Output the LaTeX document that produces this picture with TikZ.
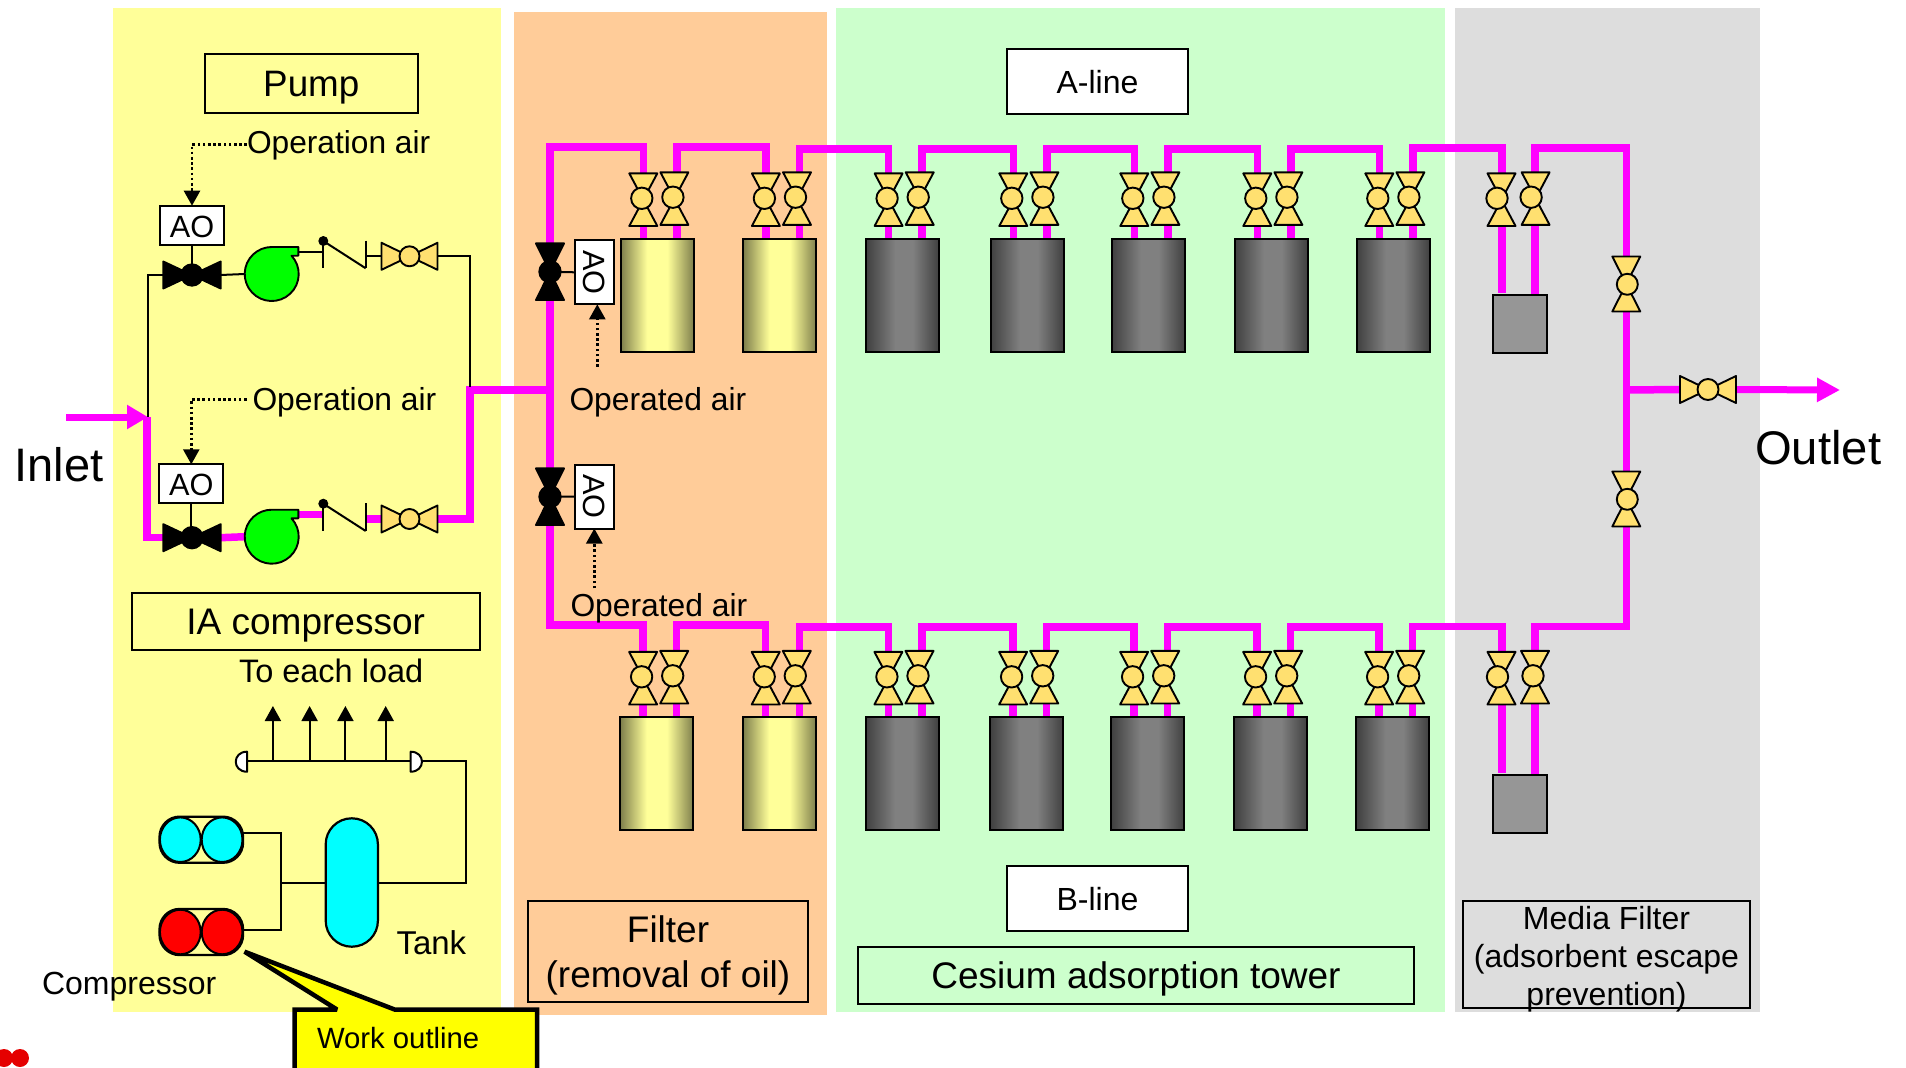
\documentclass[tikz,border=0pt]{standalone}
\usepackage{fontspec}
\setmainfont{Liberation Sans}
\usetikzlibrary{arrows.meta,calc}
\pgfdeclarelayer{pipes}
\pgfsetlayers{pipes,main}
\definecolor{panY}{HTML}{FFFF99}
\definecolor{panO}{HTML}{FFCC99}
\definecolor{panG}{HTML}{CCFFCC}
\definecolor{panK}{HTML}{DDDDDD}
\definecolor{pipeM}{HTML}{FF00FF}
\definecolor{valveY}{HTML}{FFE070}
\definecolor{oe}{HTML}{7F7F4C}
\definecolor{oc}{HTML}{FFFF99}
\definecolor{ke}{HTML}{404040}
\definecolor{kc}{HTML}{808080}
\definecolor{cyanfill}{HTML}{00FFFF}
\definecolor{redfill}{HTML}{FF0000}
\definecolor{greenfill}{HTML}{00FF00}
\definecolor{callfill}{HTML}{FFFF00}
\definecolor{greyfill}{HTML}{969696}
\pgfdeclarehorizontalshading{oliveshade}{100bp}{color(0bp)=(oe); color(25bp)=(oe); color(43bp)=(oc); color(57bp)=(oc); color(75bp)=(oe); color(100bp)=(oe)}
\pgfdeclarehorizontalshading{darkshade}{100bp}{color(0bp)=(ke); color(25bp)=(ke); color(45bp)=(kc); color(57bp)=(kc); color(75bp)=(ke); color(100bp)=(ke)}
\newcommand\fsz[1]{\fontsize{#1}{#1}\selectfont}
% text whose baseline lies #1 below the centre of its node
\newcommand\bl[2]{\raisebox{-#1pt}[0pt][0pt]{#2}}
\tikzset{
  x=1pt,y=-1pt,
  glyphline/.style={draw=black,line width=1.9pt,line join=round},
  thinline/.style={draw=black,line width=2pt},
  pipe/.style={draw=pipeM,line width=7.5pt},
  airline/.style={draw=black,line width=2.6pt,dash pattern=on 2.6pt off 2.6pt,-{Triangle[length=15pt,width=16pt]}},
  txt/.style={inner sep=0pt,outer sep=0pt,text=black},
  lblbox/.style={draw=black,line width=2pt,inner sep=0pt,outer sep=0pt,align=center,text=black},
  aobox/.style={draw=black,fill=white,line width=2pt,inner sep=0pt,outer sep=0pt,font=\fsz{30.7},minimum width=64pt,minimum height=39pt},
  vport/.style={inner sep=0pt,outer sep=0pt,minimum width=28pt,minimum height=53pt},
  hport/.style={inner sep=0pt,outer sep=0pt,minimum width=56pt,minimum height=27pt},
  bvport/.style={inner sep=0pt,outer sep=0pt,minimum width=28pt,minimum height=56pt},
  bhport/.style={inner sep=0pt,outer sep=0pt,minimum width=57pt,minimum height=27pt},
  tankO/.style={draw=black,line width=2pt,shade,shading=oliveshade,inner sep=0pt,outer sep=0pt,minimum width=73pt,minimum height=113.5pt},
  tankK/.style={draw=black,line width=2pt,shade,shading=darkshade,inner sep=0pt,outer sep=0pt,minimum width=73pt,minimum height=113.5pt},
  medium/.style={draw=black,line width=2pt,fill=greyfill,inner sep=0pt,outer sep=0pt,minimum width=54pt,minimum height=58pt},
  pics/vvalve/.style n args={5}{code={
    \path[glyphline,fill=#1] (-14,-#2)--(14,-#2)--(0,0)--cycle;
    \path[glyphline,fill=#1] (-14,#2)--(14,#2)--(0,0)--cycle;
    \path[glyphline,fill=#1] (#4,#5) circle[radius=#3];
  }},
  pics/hvalve/.style n args={3}{code={
    \path[glyphline,fill=#1] (-#2,-13.5)--(-#2,13.5)--(0,0)--cycle;
    \path[glyphline,fill=#1] (#2,-13.5)--(#2,13.5)--(0,0)--cycle;
    \path[glyphline,fill=#1] (0,0) circle[radius=#3];
  }},
  pics/pumpglyph/.style={code={
    \path[glyphline,fill=greenfill] (0,-27)--(26.6,-27)--(26.6,-18.3)--(19.85,-18.3)
      arc[start angle=42.7,end angle=-270,radius=27pt]--cycle;
  }},
  pics/checkglyph/.style={code={
    \draw[line width=2pt] (-21.2,-13.5)--(-21.2,13.8);
    \draw[line width=2pt] (21.2,-14)--(21.2,13.8);
    \draw[line width=2pt] (-21.2,-13.5)--(21.2,13.8);
    \fill (-21.2,-13.5) circle[radius=5pt];
  }},
  pics/compglyph/.style={code={
    \draw[line width=2.4pt,rounded corners=20pt] (-41.7,-23)rectangle(41.7,23);
    \path[glyphline,line width=2pt,fill=#1] (-21,0) ellipse[x radius=20.4pt,y radius=22.3pt];
    \path[glyphline,line width=2pt,fill=#1] (20.8,0) ellipse[x radius=20.4pt,y radius=22.3pt];
  }},
}
% name, pipe x, centre y, glyph x offset, ball x offset
\newcommand\VV[5]{\node[vport] (#1) at (#2,#3) {};\pic at (#2+#4,#3) {vvalve={valveY}{26.3}{10.7}{#5}{-1.4}};}
\begin{document}
\begin{tikzpicture}
\useasboundingbox (0,0) rectangle (1906,1068);
\begin{pgfonlayer}{pipes}
  \fill[white] (0,0) rectangle (1906,1068);
  \fill[panY] (113,8) rectangle (501,1012);
  \fill[panO] (514,11.5) rectangle (827,1015);
  \fill[panG] (836,8) rectangle (1445,1012);
  \fill[panK] (1455,8) rectangle (1760,1012);
\end{pgfonlayer}

% ---------- labels ----------
\node[lblbox,minimum width=213pt,minimum height=59pt,font=\fsz{36.8}] (pumpbox) at (311.3,83) {\bl{13.3}{Pump}};
\node[lblbox,minimum width=348pt,minimum height=57pt,font=\fsz{37}] (iabox) at (305.7,621) {\bl{13}{IA compressor}};
\node[lblbox,fill=white,minimum width=181pt,minimum height=65pt,font=\fsz{32}] (aline) at (1097.5,81.5) {\bl{12}{A-line}};
\node[lblbox,fill=white,minimum width=181pt,minimum height=65pt,font=\fsz{32}] (bline) at (1097.5,898.5) {\bl{12}{B-line}};
\node[lblbox,minimum width=556pt,minimum height=57pt,font=\fsz{37}] (cesium) at (1136,975.5) {\bl{13}{Cesium adsorption tower}};
\node[lblbox,minimum width=280pt,minimum height=101pt] (filterbox) at (668,951.5) {};
\node[txt,font=\fsz{37},align=center,anchor=base] (filtert) at (668,987) {Filter\\[7.5pt](removal of oil)};
\node[lblbox,minimum width=287pt,minimum height=107pt] (mediabox) at (1606.5,954.5) {};
\node[txt,font=\fsz{32},align=center,anchor=base] (medt) at (1606.5,1005) {Media Filter\\[6pt](adsorbent escape\hspace*{7pt}\\[6pt]prevention)};

\node[txt,anchor=base west,font=\fsz{47}] (inlet) at (14.5,481.5) {Inlet};
\node[txt,anchor=base west,font=\fsz{47.2}] (outlet) at (1755.2,464.8) {Outlet};
\node[txt,anchor=base west,font=\fsz{31.7}] (opair1) at (247,153.5) {Operation air};
\node[txt,anchor=base west,font=\fsz{31.8}] (opair2) at (252.5,410.5) {Operation air};
\node[txt,anchor=base west,font=\fsz{31.8}] (opd1) at (569.5,410.5) {Operated air};
\node[txt,anchor=base west,font=\fsz{31.8}] (opd2) at (570.5,616.7) {Operated air};
\node[txt,anchor=base west,font=\fsz{32.5}] (toeach) at (239,682) {To each load};
\node[txt,anchor=base west,font=\fsz{33}] (tanklbl) at (396.5,954) {Tank};
\node[txt,anchor=base west,font=\fsz{32}] (complbl) at (42,994.5) {Compressor};

% ---------- AO boxes ----------
\node[aobox] (AOp1) at (192,225.2) {\bl{12}{AO}};
\node[aobox] (AOp2) at (191.3,483.8) {\bl{12}{AO}};
\node[aobox,rotate=-90] (AOf1) at (594.2,272.3) {\bl{11}{AO}};
\node[aobox,rotate=-90] (AOf2) at (594.2,496.5) {\bl{11}{AO}};

% ---------- pump trains ----------
\foreach \n/\dy in {1/0,2/262.7}{
  \node[bhport] (LV\n) at (192,275+\dy) {};
  \pic at (192,275+\dy) {hvalve={black}{28.7}{10.7}};
  \node[inner sep=0pt,outer sep=0pt,minimum size=54pt,circle] (PU\n) at (271.7,274+\dy) {};
  \pic at (271.7,274+\dy) {pumpglyph};
  \coordinate (PO\n) at (298.3,252+\dy);
  \node[inner sep=0pt,outer sep=0pt,minimum width=42.4pt,minimum height=27.5pt] (CV\n) at (344.5,254.5+\dy) {};
  \pic at (344.5,254.5+\dy) {checkglyph};
  \node[hport] (HV\n) at (409.5,256.3+\dy) {};
  \pic at (409.5,256.3+\dy) {hvalve={valveY}{28}{10}};
}
\coordinate (JR) at (470,390);
\coordinate (JL) at (148,417);
\coordinate (JM) at (550,390);

% ---------- filter isolation valves ----------
\node[bvport] (FT) at (550,271.7) {};
\pic at (550,271.7) {vvalve={black}{28.3}{10.7}{0}{0}};
\node[bvport] (FB) at (550,496.7) {};
\pic at (550,496.7) {vvalve={black}{28.3}{10.7}{0}{0}};

% ---------- tanks and valves ----------
\foreach \i/\tx/\st in {1/620.7/tankO,2/743.3/tankO,3/866/tankK,4/990.7/tankK,5/1111.7/tankK,6/1234.7/tankK,7/1356.7/tankK}{
  \node[\st] (TA\i) at (\tx+36.5,295.3) {};
  \node[\st] (TB\i) at (\tx+36.1,773.3) {};
  \VV{Aa\i}{\tx+22.6}{199.7}{0}{-1.5}
  \VV{Ab\i}{\tx+56.2}{198.6}{-2.5}{-1.5}
  \VV{Ba\i}{\tx+22.4}{678.2}{0}{-1.5}
  \VV{Bb\i}{\tx+56}{677.2}{-2.5}{-1.5}
}
% ---------- media filters ----------
\VV{Ama}{1502}{199.7}{-0.5}{-4.5}
\VV{Amb}{1535}{198.6}{0.6}{-4.5}
\VV{Bma}{1502}{678.2}{-0.5}{-4}
\VV{Bmb}{1535}{677.2}{0}{-2}
\node[medium] (MA) at (1520.3,323.8) {};
\node[medium] (MB) at (1520.3,804) {};
\node[inner sep=0pt,outer sep=0pt,vport] (V1) at (1626.5,284) {};
\pic at (1626.3,284) {vvalve={valveY}{27.5}{10.5}{1}{0.3}};
\node[inner sep=0pt,outer sep=0pt,vport] (V2) at (1626.5,499) {};
\pic at (1626.3,499) {vvalve={valveY}{27.5}{10.5}{1}{0.3}};
\node[hport] (VO) at (1708,389.5) {};
\pic at (1708,389.5) {hvalve={valveY}{28}{10.5}};
\coordinate (JO) at (1626.5,390);
\coordinate (OUT) at (1840,390);
\coordinate (IN) at (66,417);

% ---------- pipework ----------
\begin{pgfonlayer}{pipes}
  \draw[pipe,line width=7pt,-{Triangle[length=21pt,width=23pt]}] (IN) -- (JL);
  \draw[pipe] (147,417) |- (LV2.west);
  \draw[pipe] (LV2.east) -- (PU2.west);
  \draw[pipe] (PO2) -- (PO2-|CV2.west);
  \draw[pipe] (CV2.east|-HV2) -- (HV2.west);
  \draw[pipe] (HV2.east) -| (JR) -- (JM);
  \draw[pipe] (FT.south) -- (FB.north);
  \draw[pipe] (FT.north) |- (Aa1|-0,147) -- (Aa1.north);
  \draw[pipe] (FB.south) |- (Ba1|-0,625) -- (Ba1.north);
  \foreach \i/\j/\ya/\yb in {1/2/147/625,2/3/149/627,3/4/149/627,4/5/149/627,5/6/149/627,6/7/149/627}{
    \draw[pipe] (Ab\i.north) |- (Aa\j|-0,\ya) -- (Aa\j.north);
    \draw[pipe] (Bb\i.north) |- (Ba\j|-0,\yb) -- (Ba\j.north);
  }
  \draw[pipe] (Ab7.north) |- (Ama|-0,148) -- (Ama.north);
  \draw[pipe] (Bb7.north) |- (Bma|-0,626.5) -- (Bma.north);
  \draw[pipe] (Amb.north) |- (V1|-0,148) -- (V1.north);
  \draw[pipe] (V2.south) |- (Bmb|-0,626.5) -- (Bmb.north);
  \draw[pipe] (V1.south) -- (V2.north);
  \foreach \i in {1,...,7}{
    \draw[pipe] (Aa\i.south) -- (Aa\i|-TA\i.north);
    \draw[pipe] (Ab\i.south) -- (Ab\i|-TA\i.north);
    \draw[pipe] (Ba\i.south) -- (Ba\i|-TB\i.north);
    \draw[pipe] (Bb\i.south) -- (Bb\i|-TB\i.north);
  }
  \draw[pipe] (Ama.south) -- ($(Ama|-MA.north)+(0,-2)$);
  \draw[pipe] (Amb.south) -- (Amb|-MA.north);
  \draw[pipe] (Bma.south) -- ($(Bma|-MB.north)+(0,-2)$);
  \draw[pipe] (Bmb.south) -- (Bmb|-MB.north);
  \draw[pipe] (JO) -- (VO.west);
  \draw[pipe,line width=7pt,-{Triangle[length=23pt,width=23pt]}] (VO.east) -- (OUT);
\end{pgfonlayer}

% ---------- thin lines of the upper pump train ----------
\draw[thinline] (LV1.west) -| (148.3,417);
\draw[thinline] (LV1.east) -- (PU1.west);
\draw[thinline] (PO1) -- (PO1-|CV1.west);
\draw[thinline] (CV1.east|-HV1) -- (HV1.west);
\draw[thinline] (HV1.east) -| (470,387);
\draw[thinline] (AOp1.south) -- (AOp1.south|-LV1);
\draw[thinline] (AOp2.south) -- (AOp2.south|-LV2);
\draw[thinline] (FT.center) -- (AOf1.south);
\draw[thinline] (FB.center) -- (AOf2.south);

% ---------- air signals ----------
\draw[airline] (opair1.west|-0,144.3) -| (AOp1.north);
\draw[airline] (opair2.west|-0,399.3) ++(-6,0) -| (AOp2.north);
\coordinate (air1) at (597.3,366.7);
\coordinate (air2) at (594.3,588.3);
\draw[airline] (air1) -- (air1|-AOf1.east);
\draw[airline] (air2) -- (air2|-AOf2.east);

% ---------- instrument air system ----------
\node[inner sep=0pt,outer sep=0pt,minimum width=83.4pt,minimum height=46pt] (CC) at (201.3,839.7) {};
\pic at (201.3,839.7) {compglyph=cyanfill};
\node[inner sep=0pt,outer sep=0pt,minimum width=83.4pt,minimum height=46pt] (CR) at (201.3,932) {};
\pic at (201.3,932) {compglyph=redfill};
\node[draw=black,fill=cyanfill,line width=2.2pt,rounded corners=26pt,inner sep=0pt,outer sep=0pt,minimum width=52.2pt,minimum height=128.4pt] (TK) at (351.8,882.5) {};
\coordinate (JC) at (281,882.5);
\coordinate (JE) at (466,882.5);
\coordinate (HR) at (466,761);
\draw[thinline] (CC.east|-0,833.3) -| (JC);
\draw[thinline] (CR.east|-0,930) -| (JC);
\draw[thinline] (JC) -- (TK.west);
\draw[thinline] (TK.east) -- (JE) -- (HR) -- (247,761);
\path[glyphline,line width=2pt,fill=white] (247,751.7) .. controls (232,751.7) and (232,771.7) .. (247,771.7) -- cycle;
\path[glyphline,line width=2pt,fill=white] (410.7,751.7) .. controls (425.7,751.7) and (425.7,771.7) .. (410.7,771.7) -- cycle;
\foreach \ux in {272.9,309.6,345.4,385.7}{
  \coordinate (UP) at (\ux,761);
  \draw[thinline,-{Triangle[length=15pt,width=16pt]}] (UP) -- ++(0,-55);
}

% ---------- callout ----------
\coordinate (CT) at (244.6,951.7);
\path[draw=black,fill=callfill,line width=4.5pt,line join=miter,miter limit=3]
  (294.6,1009.5) -- (337,1009.5) -- (CT) -- (394.6,1009.5) -- (537,1009.5) -- (537,1080) -- (294.6,1080) -- cycle;
\node[txt,anchor=base west,font=\fsz{29.3}] (work) at (317,1048) {Work outline};

% ---------- stray mark ----------
\fill[redfill!90!black] (4,1058) circle[radius=9pt];
\fill[redfill!90!black] (20,1058) circle[radius=9pt];
\end{tikzpicture}
\end{document}
